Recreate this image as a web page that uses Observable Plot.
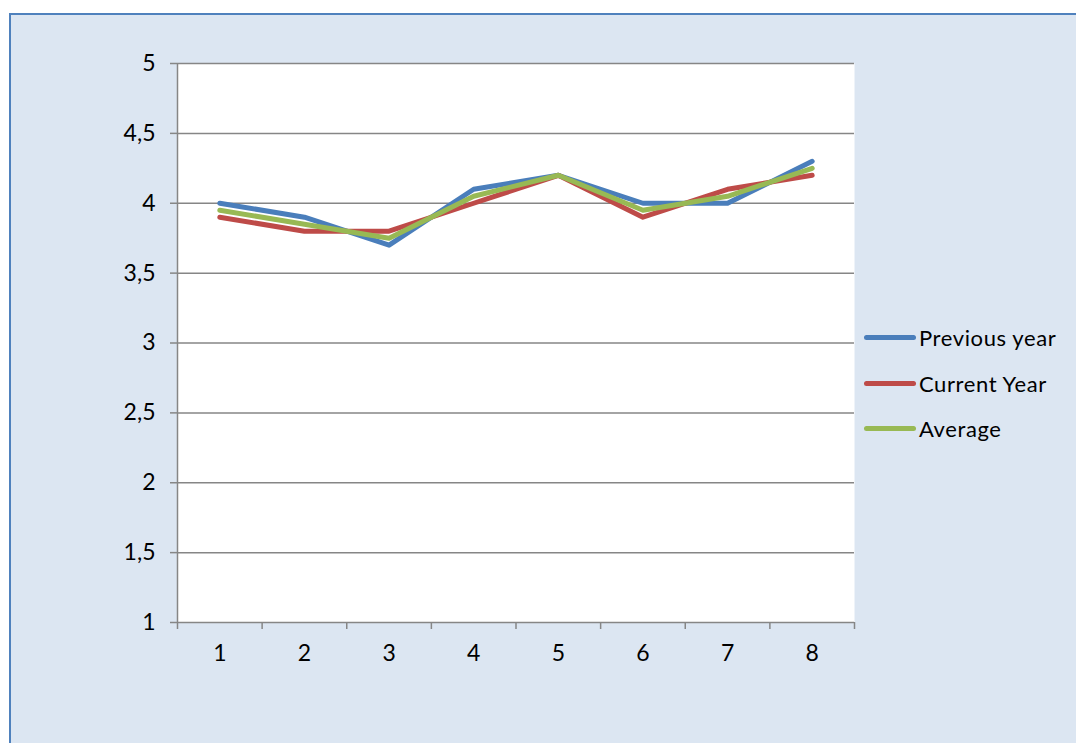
<!DOCTYPE html>
<html>
<head>
<meta charset="utf-8">
<script src="https://cdn.jsdelivr.net/npm/d3@7"></script>
<script src="https://cdn.jsdelivr.net/npm/@observablehq/plot@0.6"></script>
<style>
  html, body { margin: 0; padding: 0; width: 1076px; height: 743px; overflow: hidden; background: #ffffff; }
  #panel { position: absolute; left: 9px; top: 13px; width: 1080px; height: 740px; background: #dce6f2;
           border-top: 2.5px solid #4f81bd; border-left: 2.5px solid #4f81bd; }
  #chart { position: absolute; left: 0; top: 0; }
  #legend { position: absolute; left: 864px; top: 315px; font-family: Lato, "Open Sans", sans-serif; font-size: 22px; letter-spacing: 0.6px; color: #000; }
  .item { display: flex; align-items: center; height: 45.5px; }
  .swatch { width: 52px; height: 5px; border-radius: 3px; margin-right: 3px; }
</style>
</head>
<body>
<div id="panel"></div>
<div id="chart"></div>
<div id="legend"></div>
<script>
const categories = [1, 2, 3, 4, 5, 6, 7, 8];
const previousYear = [4.0, 3.9, 3.7, 4.1, 4.2, 4.0, 4.0, 4.3];
const currentYear  = [3.9, 3.8, 3.8, 4.0, 4.2, 3.9, 4.1, 4.2];
const average      = [3.95, 3.85, 3.75, 4.05, 4.2, 3.95, 4.05, 4.25];
const seriesNames = ["Previous year", "Current Year", "Average"];
const seriesColors = ["#4a7ebb", "#be4b48", "#98b954"];
const yTicks = [1, 1.5, 2, 2.5, 3, 3.5, 4, 4.5, 5];
const xBoundaries = [0.5, 1.5, 2.5, 3.5, 4.5, 5.5, 6.5, 7.5, 8.5];

const seriesValues = [previousYear, currentYear, average];
const rows = [];
seriesNames.forEach((name, i) => {
  categories.forEach((c, j) => rows.push({series: name, x: c, y: seriesValues[i][j]}));
});

const fmt = d => String(d).replace(".", ",");

const chart = Plot.plot({
  width: 1076,
  height: 743,
  marginLeft: 177,
  marginRight: 222,
  marginTop: 63,
  marginBottom: 121,
  style: { background: "transparent", fontFamily: "Lato, 'Open Sans', sans-serif", fontSize: "23px", color: "#000" },
  x: { domain: [0.5, 8.5] },
  y: { domain: [1, 5] },
  color: { domain: seriesNames, range: seriesColors },
  marks: [
    Plot.frame({ fill: "white", stroke: null }),
    Plot.ruleY(yTicks, { stroke: "#868686", strokeWidth: 1.5, strokeOpacity: 1 }),
    Plot.ruleX([0.5], { stroke: "#868686", strokeWidth: 1.5 }),
    Plot.axisY({ ticks: yTicks, tickFormat: fmt, tickSize: 7, tickPadding: 15, stroke: "#868686", strokeWidth: 1.5, strokeOpacity: 1, label: null, fontSize: 23 }),
    Plot.axisX({ ticks: xBoundaries, tickFormat: () => "", tickSize: 7, stroke: "#868686", strokeWidth: 1.5, strokeOpacity: 1, label: null }),
    Plot.axisX({ ticks: categories, tickFormat: d => String(d), tickSize: 0, tickPadding: 22, label: null, fontSize: 23 }),
    Plot.line(rows, { x: "x", y: "y", z: "series", stroke: "series", strokeWidth: 5, strokeLinecap: "round", strokeLinejoin: "round" })
  ]
});
d3.select(chart).selectAll("text").attr("font-size", 23).style("font-size", "23px").style("font-family", "Lato, 'Open Sans', sans-serif");
document.getElementById("chart").appendChild(chart);

const legend = document.getElementById("legend");
seriesNames.forEach((name, i) => {
  const item = document.createElement("div");
  item.className = "item";
  const sw = document.createElement("div");
  sw.className = "swatch";
  sw.style.background = seriesColors[i];
  const label = document.createElement("span");
  label.textContent = name;
  item.appendChild(sw);
  item.appendChild(label);
  legend.appendChild(item);
});
</script>
</body>
</html>
